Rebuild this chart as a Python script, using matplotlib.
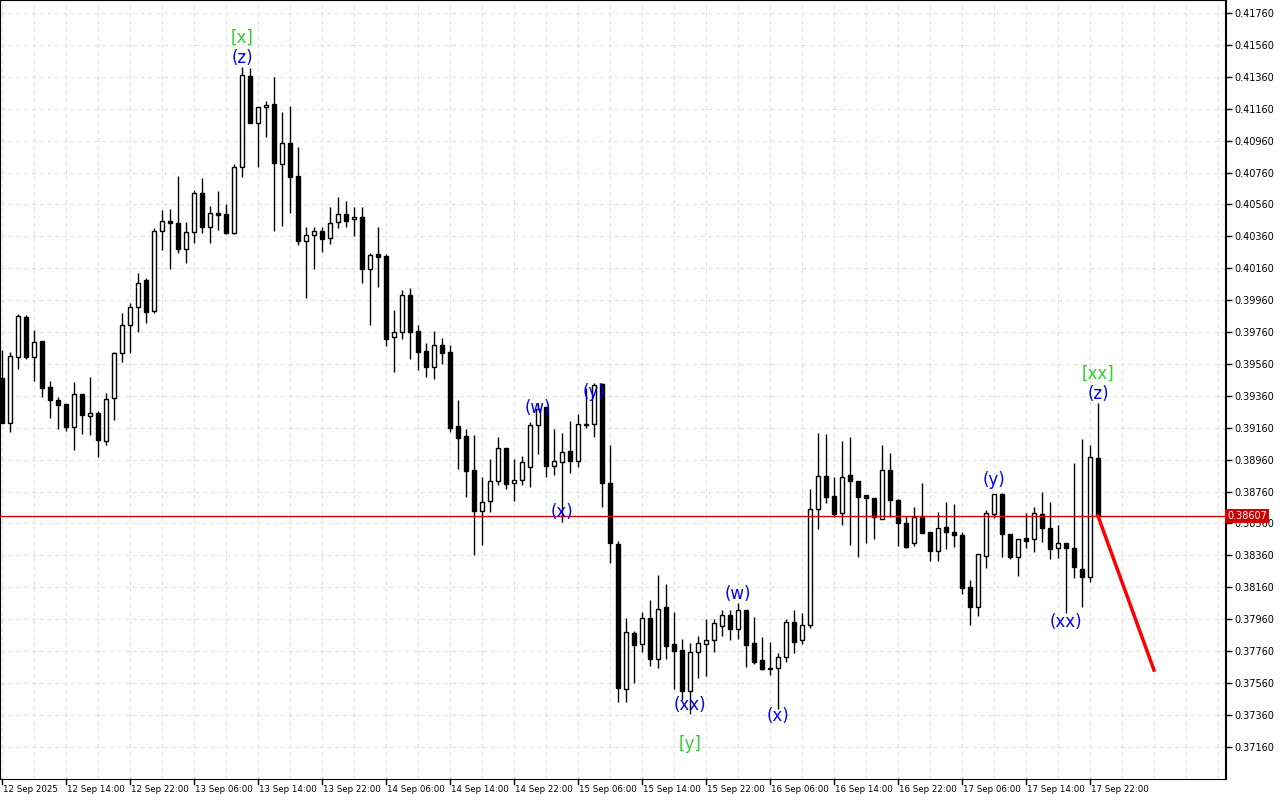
import datetime as dt
import numpy as np
import matplotlib
matplotlib.use("Agg")
import matplotlib.pyplot as plt

# H1 candles, prices in 1e-5 units
opens = [39472, 39190, 39604, 39855, 39604, 39704, 39416, 39334, 39309, 39165,
         39372, 39234, 39252, 39077, 39347, 39628, 39805, 39917, 40086, 39892,
         40394, 40457, 40444, 40281, 40387, 40632, 40419, 40507, 40500, 40381,
         40795, 41365, 41071, 41171, 41190, 40814, 40945, 40738, 40331, 40369,
         40394, 40350, 40450, 40500, 40469, 40482, 40155, 40250, 40237, 39729,
         39760, 39992, 39767, 39641, 39541, 39679, 39634, 39171, 39108, 38895,
         38638, 38701, 38826, 39033, 38814, 38832, 38914, 39177, 39290, 38920,
         38945, 39014, 38951, 39184, 39184, 39434, 38814, 38431, 37522, 37873,
         37804, 37967, 37710, 38036, 37804, 37767, 37509, 37754, 37804, 37829,
         37917, 37986, 37898, 38017, 37811, 37704, 37654, 37654, 37723, 37942,
         37829, 37923, 38651, 38858, 38732, 38626, 38864, 38826, 38739, 38720,
         38588, 38895, 38707, 38563, 38437, 38601, 38506, 38387, 38538, 38506,
         38487, 38161, 38036, 38356, 38619, 38745, 38494, 38349, 38469, 38462,
         38619, 38531, 38406, 38437, 38406, 38274, 38224, 38970]
highs = [39647, 39634, 39873, 39867, 39773, 39704, 39453, 39353, 39309, 39446,
         39372, 39478, 39265, 39378, 39634, 39880, 39942, 40130, 40099, 40412,
         40525, 40531, 40738, 40450, 40651, 40726, 40550, 40645, 40563, 40814,
         41422, 41416, 41171, 41209, 41359, 41140, 41177, 40920, 40419, 40419,
         40419, 40544, 40607, 40582, 40544, 40544, 40256, 40419, 40250, 39898,
         40024, 40036, 39805, 39691, 39767, 39723, 39679, 39334, 39152, 39115,
         38851, 38964, 39102, 39033, 38964, 38983, 39196, 39315, 39290, 39152,
         39127, 39202, 39246, 39409, 39440, 39440, 39052, 38450, 37967, 37886,
         38005, 38080, 38237, 38180, 38005, 37836, 37811, 37855, 37961, 37961,
         38017, 38017, 38061, 38017, 37974, 37848, 37817, 37748, 37961, 38017,
         37998, 38776, 39127, 39121, 38851, 39077, 39102, 38826, 38739, 38720,
         39052, 39002, 38713, 38607, 38663, 38814, 38506, 38632, 38695, 38682,
         38506, 38205, 38369, 38644, 38745, 38751, 38494, 38462, 38626, 38663,
         38757, 38695, 38550, 38437, 38939, 39089, 39052, 39315]
lows = [39209, 39133, 39528, 39591, 39453, 39353, 39221, 39152, 39140, 39020,
        39121, 39115, 38977, 39052, 39209, 39572, 39628, 39760, 39817, 39880,
        40275, 40155, 40256, 40193, 40318, 40381, 40318, 40400, 40375, 40375,
        40732, 41071, 40795, 40983, 40394, 40425, 40507, 40306, 39973, 40155,
        40262, 40312, 40413, 40419, 40362, 40067, 39805, 40042, 39672, 39509,
        39716, 39591, 39522, 39478, 39466, 39560, 39133, 38901, 38726, 38362,
        38425, 38632, 38801, 38776, 38701, 38801, 38789, 38995, 38851, 38864,
        38569, 38876, 38914, 39159, 39102, 38663, 38312, 37441, 37441, 37560,
        37754, 37666, 37654, 37710, 37522, 37453, 37365, 37591, 37603, 37754,
        37855, 37829, 37836, 37660, 37679, 37641, 37610, 37396, 37691, 37748,
        37804, 37905, 38525, 38688, 38601, 38550, 38425, 38349, 38437, 38462,
        38588, 38601, 38419, 38406, 38419, 38500, 38325, 38325, 38400, 38412,
        38118, 37923, 37980, 38281, 38594, 38349, 38337, 38230, 38406, 38381,
        38444, 38337, 38343, 37998, 38218, 38036, 38193, 38607]
closes = [39190, 39610, 39861, 39604, 39697, 39409, 39334, 39303, 39165, 39372,
          39240, 39252, 39083, 39340, 39628, 39805, 39917, 40067, 39886, 40394,
          40457, 40444, 40281, 40387, 40632, 40419, 40507, 40494, 40381, 40795,
          41371, 41071, 41171, 41184, 40820, 40945, 40732, 40331, 40369, 40394,
          40343, 40444, 40500, 40457, 40482, 40155, 40243, 40231, 39716, 39760,
          39992, 39760, 39634, 39541, 39679, 39628, 39158, 39096, 38889, 38638,
          38695, 38826, 39033, 38807, 38832, 38945, 39177, 39278, 38920, 38951,
          39008, 38951, 39184, 39177, 39428, 38814, 38437, 37528, 37880, 37798,
          37967, 37710, 38024, 37792, 37761, 37509, 37754, 37811, 37829, 37936,
          37986, 37898, 38017, 37798, 37691, 37647, 37647, 37723, 37942, 37817,
          37923, 38651, 38858, 38726, 38619, 38851, 38826, 38726, 38720, 38601,
          38895, 38707, 38563, 38412, 38601, 38500, 38387, 38531, 38506, 38487,
          38155, 38036, 38369, 38626, 38745, 38494, 38349, 38462, 38450, 38626,
          38531, 38400, 38437, 38406, 38287, 38224, 38977, 38607]

current_price = 0.38607
# projected red line: (candle index, price)
proj_idx = [137, 144]
proj_price = [0.38607, 0.37641]

# wave labels: (candle index, price, text, colour)
wave_labels = [
    (30, 0.41478, "(z)", "blue"), (30, 0.41604, "[x]", "limegreen"),
    (67, 0.39284, "(w)", "blue"), (74, 0.39384, "(y)", "blue"),
    (70, 0.38632, "(x)", "blue"), (86, 0.37422, "(xx)", "blue"),
    (86, 0.37177, "[y]", "limegreen"), (92, 0.38118, "(w)", "blue"),
    (97, 0.37353, "(x)", "blue"), (124, 0.38832, "(y)", "blue"),
    (133, 0.37942, "(xx)", "blue"), (137, 0.39372, "(z)", "blue"),
    (137, 0.39497, "[xx]", "limegreen"),
]

start = dt.datetime(2025, 9, 12, 6)

o = np.array(opens) / 1e5
h = np.array(highs) / 1e5
l = np.array(lows) / 1e5
c = np.array(closes) / 1e5
idx = np.arange(len(o))

fig = plt.figure(figsize=(12.8, 8.0), dpi=100)
ax = fig.add_axes([0.0, 21 / 800, 1226 / 1280, 779 / 800])
ax.set_xlim(-0.25, 153)
ax.set_ylim(0.36958, 0.41842)

up = c >= o
ax.vlines(idx, l, h, color="black", linewidth=1.0, zorder=2)
bottom = np.minimum(o, c)
height = np.maximum(np.abs(c - o), 0.00002)
ax.bar(idx[up], height[up], bottom=bottom[up], width=0.62,
       facecolor="white", edgecolor="black", linewidth=1.0, zorder=3)
ax.bar(idx[~up], height[~up], bottom=bottom[~up], width=0.62,
       facecolor="black", edgecolor="black", linewidth=1.0, zorder=3)

ax.axhline(current_price, color="#e00000", linewidth=1.0, zorder=4)
ax.plot(proj_idx, proj_price, color="#ff0000", linewidth=2.5, zorder=5)

for i, p, t, col in wave_labels:
    ax.text(i, p, t, color=col, fontsize=12, ha="center", va="center", zorder=6)

# grid and axes
yt = np.arange(0.37160, 0.41761, 0.002)
ax.set_yticks(yt)
ax.set_xticks(np.arange(0, 154, 4), minor=False)
ax.grid(True, color="#e3e3e3", linestyle=(0, (4, 3)), linewidth=0.8, zorder=0)
ax.yaxis.tick_right()
ax.set_yticklabels([f"{v:.5f}" for v in yt], fontsize=7)
ax.tick_params(axis="y", length=4, width=1, pad=2)
ax.set_xticklabels([])
ax.tick_params(axis="x", length=0)
for s in ax.spines.values():
    s.set_color("black")
ax.spines["right"].set_linewidth(1.5)

for k in range(0, 137, 8):
    t = start + dt.timedelta(hours=k)
    lab = "12 Sep 2025" if k == 0 else t.strftime("%d Sep %H:%M").lstrip("0")
    ax.text(k + 0.1, -0.008, lab, transform=ax.get_xaxis_transform(), fontsize=6.2,
            ha="left", va="top")
    ax.plot([k, k], [0, -0.006], transform=ax.get_xaxis_transform(),
            color="black", linewidth=1, clip_on=False)

ax.text(1.001, current_price, f"{current_price:.5f}", transform=ax.get_yaxis_transform(),
        fontsize=7, color="white", va="center", ha="left",
        bbox=dict(boxstyle="square,pad=0.2", facecolor="#d00000", edgecolor="none"))

fig.savefig("out.png", dpi=100)
